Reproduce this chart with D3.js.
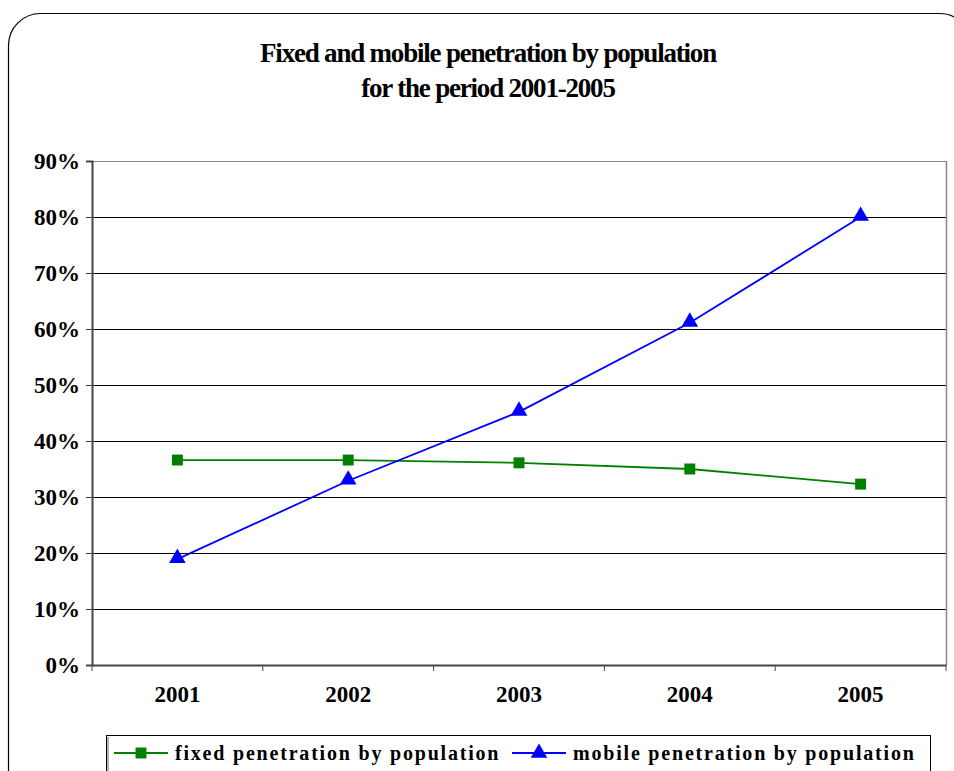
<!DOCTYPE html>
<html>
<head>
<meta charset="utf-8">
<script src="https://cdn.jsdelivr.net/npm/d3@7"></script>
<style>
  body { margin: 0; background: #fff; }
  text { font-family: "Liberation Serif", "Times New Roman", serif; font-weight: bold; fill: #000; }
</style>
</head>
<body>
<div id="chart"></div>
<script>
  var years = ['2001', '2002', '2003', '2004', '2005'];
  var fixedValues = [0.366, 0.366, 0.361, 0.350, 0.323];
  var mobileValues = [0.189, 0.329, 0.452, 0.611, 0.800];
  var yTicks = [0, 0.1, 0.2, 0.3, 0.4, 0.5, 0.6, 0.7, 0.8, 0.9];
  var seriesNames = ['fixed penetration by population', 'mobile penetration by population'];

  var width = 954;
  var height = 771;
  var margin = {top: 161, right: 8, bottom: 106, left: 92};

  var svg = d3.select('#chart')
    .append('svg')
    .attr('width', width)
    .attr('height', height);

  // outer rounded frame
  svg.append('rect')
    .attr('x', 8.5).attr('y', 13.5)
    .attr('width', 963).attr('height', 820)
    .attr('rx', 32).attr('ry', 32)
    .attr('fill', 'none')
    .attr('stroke', '#000')
    .attr('stroke-width', 1.2);

  svg.append('text')
    .attr('x', 488).attr('y', 62)
    .attr('text-anchor', 'middle')
    .style('font-size', '27px')
    .style('letter-spacing', '-1.2px')
    .text('Fixed and mobile penetration by population');
  svg.append('text')
    .attr('x', 488).attr('y', 97)
    .attr('text-anchor', 'middle')
    .style('font-size', '27px')
    .style('letter-spacing', '-1.2px')
    .text('for the period 2001-2005');

  var x = d3.scaleBand()
    .domain(years)
    .range([margin.left, width - margin.right]);

  var y = d3.scaleLinear()
    .domain([0, 0.9])
    .range([height - margin.bottom, margin.top]);

  var plot = svg.append('g');

  // grid lines
  plot.selectAll('.grid')
    .data(yTicks.slice(1))
    .enter()
    .append('line')
    .attr('x1', margin.left).attr('x2', width - margin.right)
    .attr('y1', function(d){ return Math.round(y(d)) + 0.5; })
    .attr('y2', function(d){ return Math.round(y(d)) + 0.5; })
    .attr('stroke', function(d){ return d > 0.85 ? '#888' : '#000'; })
    .attr('stroke-width', 1);

  // right border of plot area
  plot.append('line')
    .attr('x1', width - margin.right + 0.5).attr('x2', width - margin.right + 0.5)
    .attr('y1', y(0.9)).attr('y2', y(0))
    .attr('stroke', '#888').attr('stroke-width', 1.5);

  var yAxis = d3.axisLeft(y)
    .tickValues(yTicks)
    .tickFormat(d3.format('.0%'))
    .tickSize(6)
    .tickPadding(6);

  var gy = svg.append('g')
    .attr('transform', 'translate(' + margin.left + ',0)')
    .call(yAxis);
  gy.attr('font-family', null).attr('font-size', null);
  gy.select('.domain').attr('stroke', '#444').attr('stroke-width', 2);
  gy.selectAll('.tick line').attr('stroke', '#444');
  gy.selectAll('.tick text')
    .style('font-size', '23px')
    .attr('dy', '0.34em');

  var xAxis = d3.axisBottom(x)
    .tickSize(0)
    .tickPadding(21);

  var gx = svg.append('g')
    .attr('transform', 'translate(0,' + (height - margin.bottom) + ')')
    .call(xAxis);
  gx.attr('font-family', null).attr('font-size', null);
  gx.select('.domain').attr('stroke', '#444').attr('stroke-width', 2);
  gx.selectAll('.tick text')
    .style('font-size', '23px');

  // category boundary ticks
  gx.selectAll('.btick')
    .data(years.concat(['end']))
    .enter()
    .append('line')
    .attr('x1', function(d, i){ return margin.left + i * x.bandwidth(); })
    .attr('x2', function(d, i){ return margin.left + i * x.bandwidth(); })
    .attr('y1', 0).attr('y2', 6)
    .attr('stroke', '#444');

  var line = d3.line()
    .x(function(d, i){ return x(years[i]) + x.bandwidth() / 2; })
    .y(function(d){ return y(d); });

  plot.append('path')
    .datum(fixedValues)
    .attr('d', line)
    .attr('fill', 'none')
    .attr('stroke', '#008000')
    .attr('stroke-width', 1.8);

  plot.append('path')
    .datum(mobileValues)
    .attr('d', line)
    .attr('fill', 'none')
    .attr('stroke', '#0000ff')
    .attr('stroke-width', 1.8);

  var square = d3.symbol().type(d3.symbolSquare).size(120);
  var triangle = d3.symbol().type(d3.symbolTriangle).size(120);

  plot.selectAll('.fixedPt')
    .data(fixedValues)
    .enter()
    .append('path')
    .attr('d', square)
    .attr('transform', function(d, i){ return 'translate(' + (x(years[i]) + x.bandwidth() / 2) + ',' + y(d) + ')'; })
    .attr('fill', '#008000');

  plot.selectAll('.mobilePt')
    .data(mobileValues)
    .enter()
    .append('path')
    .attr('d', triangle)
    .attr('transform', function(d, i){ return 'translate(' + (x(years[i]) + x.bandwidth() / 2) + ',' + (y(d) - 1) + ')'; })
    .attr('fill', '#0000ff');

  // legend
  var legend = svg.append('g');
  legend.append('rect')
    .attr('x', 106.5).attr('y', 735.5)
    .attr('width', 824).attr('height', 50)
    .attr('fill', '#fff')
    .attr('stroke', '#000')
    .attr('stroke-width', 1);
  legend.append('line')
    .attr('x1', 108).attr('x2', 108).attr('y1', 737).attr('y2', 771)
    .attr('stroke', '#999').attr('stroke-width', 1.5);

  var legendColors = ['#008000', '#0000ff'];
  var legendSymbols = [square, triangle];
  var legendX = [114, 512];

  var item = legend.selectAll('.item')
    .data(seriesNames)
    .enter()
    .append('g')
    .attr('transform', function(d, i){ return 'translate(' + legendX[i] + ',753)'; });

  item.append('line')
    .attr('x1', 0).attr('x2', 54)
    .attr('y1', 0).attr('y2', 0)
    .attr('stroke', function(d, i){ return legendColors[i]; })
    .attr('stroke-width', 1.8);
  item.append('path')
    .attr('d', function(d, i){ return legendSymbols[i](); })
    .attr('transform', 'translate(27,0)')
    .attr('fill', function(d, i){ return legendColors[i]; });
  item.append('text')
    .attr('x', 61).attr('y', 7)
    .style('font-size', '20px')
    .style('letter-spacing', '1.8px')
    .text(function(d){ return d; });
</script>
</body>
</html>
